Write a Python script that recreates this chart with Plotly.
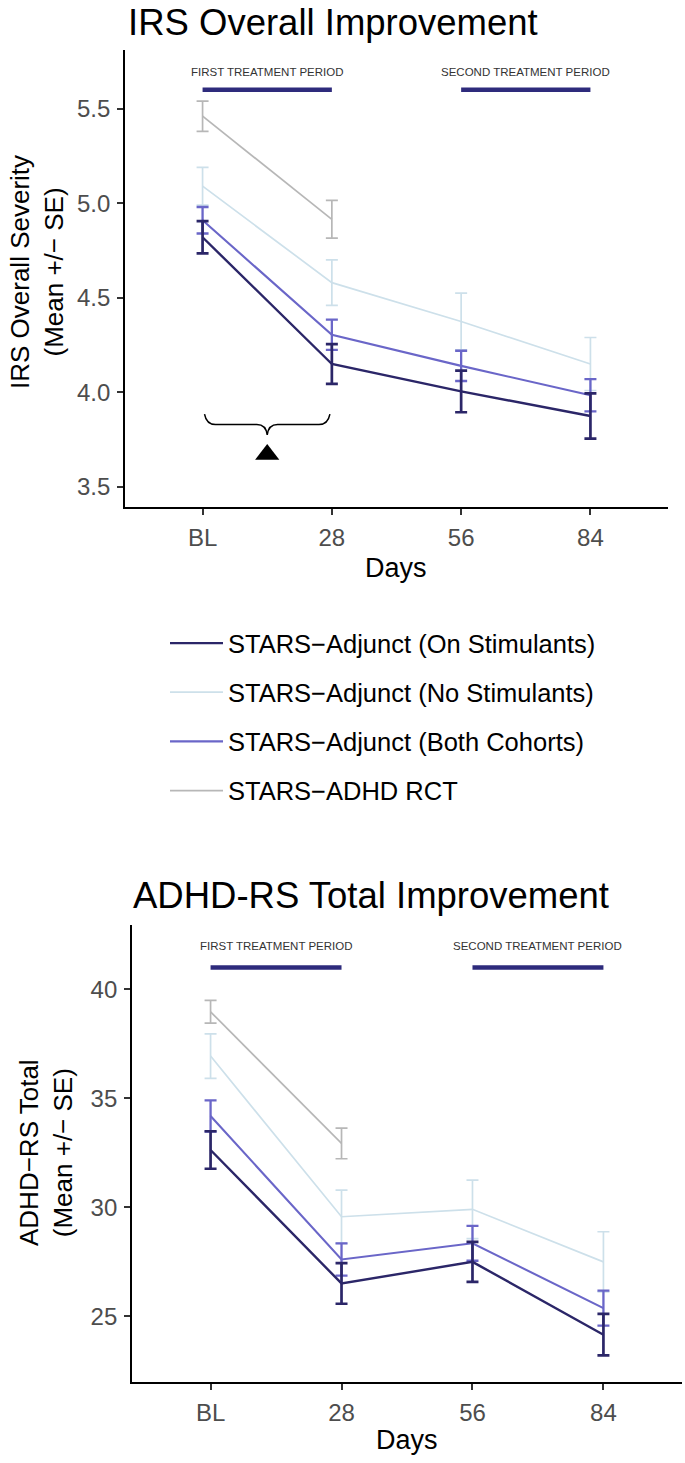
import plotly.graph_objects as go

# ---------------- data ----------------
days = ["BL", "28", "56", "84"]

series_names = [
    "STARS−Adjunct (On Stimulants)",
    "STARS−Adjunct (No Stimulants)",
    "STARS−Adjunct (Both Cohorts)",
    "STARS−ADHD RCT",
]

# IRS Overall Severity (mean, SE)
irs_on_mean = [4.82, 4.15, 4.005, 3.875]
irs_on_se = [0.085, 0.105, 0.11, 0.12]
irs_no_mean = [5.09, 4.58, 4.375, 4.15]
irs_no_se = [0.10, 0.12, 0.15, 0.14]
irs_both_mean = [4.91, 4.305, 4.14, 3.985]
irs_both_se = [0.07, 0.08, 0.08, 0.085]
irs_rct_mean = [5.46, 4.915]
irs_rct_se = [0.08, 0.10]

# ADHD-RS Total (mean, SE)
adhd_on_mean = [32.63, 26.51, 27.5, 24.16]
adhd_on_se = [0.86, 0.93, 0.92, 0.95]
adhd_no_mean = [36.94, 29.57, 29.91, 27.5]
adhd_no_se = [1.02, 1.22, 1.34, 1.38]
adhd_both_mean = [34.19, 27.61, 28.35, 25.38]
adhd_both_se = [0.72, 0.74, 0.80, 0.80]
adhd_rct_mean = [38.97, 32.93]
adhd_rct_se = [0.52, 0.70]

irs_yticks = [3.5, 4.0, 4.5, 5.0, 5.5]
adhd_yticks = [25, 30, 35, 40]

periods = [("FIRST TREATMENT PERIOD", "BL", "28"), ("SECOND TREATMENT PERIOD", "56", "84")]

# ---------------- style ----------------
W, H = 685, 1463
FONT = "Liberation Sans, Arial, Helvetica, sans-serif"
colors = ["#2b2668", "#cde0ea", "#6a66c8", "#b7b7b7"]
line_w = [2.4, 1.7, 2.1, 1.7]
err_w = [2.7, 1.7, 2.3, 1.7]
period_color = "#2e2b7c"

xpos = {d: i for i, d in enumerate(days)}


def px_x(p):
    return p / W


def px_y(p):
    return 1 - p / H


fig = go.Figure()

panels = [
    dict(xa="x", ya="y",
         means=[irs_on_mean, irs_no_mean, irs_both_mean, irs_rct_mean],
         ses=[irs_on_se, irs_no_se, irs_both_se, irs_rct_se]),
    dict(xa="x2", ya="y2",
         means=[adhd_on_mean, adhd_no_mean, adhd_both_mean, adhd_rct_mean],
         ses=[adhd_on_se, adhd_no_se, adhd_both_se, adhd_rct_se]),
]

draw_order = [3, 1, 2, 0]
for pi, p in enumerate(panels):
    for k in draw_order:
        m = p["means"][k]
        s = p["ses"][k]
        xs = [xpos[d] for d in days[:len(m)]]
        fig.add_trace(go.Scatter(
            x=xs, y=m, mode="lines", name=series_names[k],
            line=dict(color=colors[k], width=line_w[k]),
            error_y=dict(type="data", array=s, visible=True, color=colors[k],
                         thickness=err_w[k], width=6),
            xaxis=p["xa"], yaxis=p["ya"],
            legendgroup=series_names[k], legendrank=k + 1,
            showlegend=(pi == 0), hoverinfo="skip",
        ))

# triangle marker under bracket (top panel)
fig.add_trace(go.Scatter(
    x=[0.5], y=[3.672], mode="markers",
    marker=dict(symbol="triangle-up", size=21, color="black"),
    xaxis="x", yaxis="y", showlegend=False, hoverinfo="skip"))

axis_common = dict(
    showline=True, linecolor="black", linewidth=1.8, showgrid=False, zeroline=False,
    ticks="outside", ticklen=6, tickwidth=1.5, tickcolor="#333333",
    tickfont=dict(family=FONT, size=24, color="#4d4d4d"),
)

fig.update_layout(
    width=W, height=H, margin=dict(l=0, r=0, t=0, b=0),
    paper_bgcolor="white", plot_bgcolor="white",
    font=dict(family=FONT, color="black"),
    xaxis=dict(domain=[px_x(125), px_x(668)], range=[-0.6, 3.6], anchor="y",
               tickvals=list(range(len(days))), ticktext=days, ticklabelstandoff=2,
               **axis_common),
    yaxis=dict(domain=[px_y(507), px_y(50)], range=[3.394, 5.81], anchor="x",
               tickvals=irs_yticks, ticktext=[f"{v:.1f}" for v in irs_yticks],
               ticklabelstandoff=2, **axis_common),
    xaxis2=dict(domain=[px_x(132), px_x(682)], range=[-0.6, 3.6], anchor="y2",
                tickvals=list(range(len(days))), ticktext=days, ticklabelstandoff=2,
                **axis_common),
    yaxis2=dict(domain=[px_y(1382), px_y(925)], range=[21.99, 42.95], anchor="x2",
                tickvals=adhd_yticks, ticktext=[str(v) for v in adhd_yticks],
                ticklabelstandoff=2, **axis_common),
    legend=dict(x=px_x(165), y=px_y(620), xanchor="left", yanchor="top",
                font=dict(family=FONT, size=25.5, color="black"),
                traceorder="grouped", tracegroupgap=13, itemwidth=53,
                bgcolor="rgba(0,0,0,0)"),
)

shapes = []
annotations = []

# period bars and labels
for xa, ya, ybar, ylab in [("x", "y", 5.60, 5.695), ("x2", "y2", 41.0, 42.0)]:
    for label, a, b in periods:
        shapes.append(dict(type="line", xref=xa, yref=ya, x0=xpos[a], x1=xpos[b],
                           y0=ybar, y1=ybar, line=dict(color=period_color, width=4.5)))
        annotations.append(dict(xref=xa, yref=ya, x=(xpos[a] + xpos[b]) / 2, y=ylab,
                                text=label, showarrow=False,
                                font=dict(family=FONT, size=11.5, color="#333333")))

# curly brace over first period (top panel)
brace = ("M 0.015,3.885 Q 0.03,3.83 0.10,3.83 L 0.42,3.83 "
         "Q 0.49,3.83 0.50,3.775 Q 0.51,3.83 0.58,3.83 L 0.90,3.83 "
         "Q 0.97,3.83 0.985,3.885")
shapes.append(dict(type="path", xref="x", yref="y", path=brace,
                   line=dict(color="black", width=1.5)))

# titles
annotations += [
    dict(xref="paper", yref="paper", x=px_x(126), y=px_y(22), xanchor="left", yanchor="middle",
         text="IRS Overall Improvement", showarrow=False,
         font=dict(family=FONT, size=36.5, color="black")),
    dict(xref="paper", yref="paper", x=px_x(131), y=px_y(895), xanchor="left", yanchor="middle",
         text="ADHD-RS Total Improvement", showarrow=False,
         font=dict(family=FONT, size=36.5, color="black")),
    dict(xref="paper", yref="paper", x=px_x(37), y=px_y(272), xanchor="center", yanchor="middle",
         text="IRS Overall Severity<br>(Mean +/− SE)", textangle=-90, showarrow=False,
         font=dict(family=FONT, size=26, color="black")),
    dict(xref="paper", yref="paper", x=px_x(46), y=px_y(1153), xanchor="center", yanchor="middle",
         text="ADHD−RS Total<br>(Mean +/− SE)", textangle=-90, showarrow=False,
         font=dict(family=FONT, size=26, color="black")),
    dict(xref="paper", yref="paper", x=px_x(396), y=px_y(568), xanchor="center", yanchor="middle",
         text="Days", showarrow=False, font=dict(family=FONT, size=27, color="black")),
    dict(xref="paper", yref="paper", x=px_x(407), y=px_y(1440), xanchor="center", yanchor="middle",
         text="Days", showarrow=False, font=dict(family=FONT, size=27, color="black")),
]

fig.update_layout(shapes=shapes, annotations=annotations)
fig.write_html("out.html", config={"displayModeBar": False},
               post_script="document.body.style.margin='0';document.body.style.overflow='hidden';")
